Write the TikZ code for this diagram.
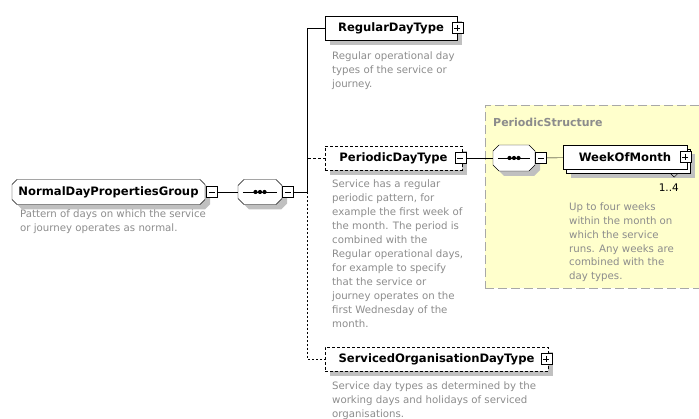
\documentclass[tikz,border=0pt]{standalone}
\usepackage{fontspec}
\setmainfont{DejaVu Sans}
\usetikzlibrary{positioning, shadows}
\definecolor{descgray}{HTML}{8C8C8C}
\definecolor{shadegray}{HTML}{C0C0C0}
\definecolor{framegray}{HTML}{A8A8A8}
\definecolor{paleyellow}{HTML}{FFFFCC}

\begin{document}
\begin{tikzpicture}[
    x=1pt, y=-1pt,
    box/.style=
        {draw, fill=white, rectangle, minimum height=24pt, inner sep=0pt,
         font=\bfseries\fontsize{11.6}{13}\selectfont},
    elem/.style=
        {box, drop shadow={shadow xshift=5pt, shadow yshift=-5pt,
         fill=shadegray, opacity=1}},
    optelem/.style={elem, dash pattern=on 3pt off 2pt},
    hollow/.style=
        {rectangle, inner sep=0pt, font=\bfseries\fontsize{11.6}{13}\selectfont},
    minusbox/.style=
        {draw, fill=white, minimum size=11pt, inner sep=0pt,
         path picture={
            \draw ([xshift=2.5pt]path picture bounding box.west)
                -- ([xshift=-2.5pt]path picture bounding box.east);}},
    plusbox/.style=
        {draw, fill=white, minimum size=11pt, inner sep=0pt,
         path picture={
            \draw ([xshift=2.5pt]path picture bounding box.west)
                -- ([xshift=-2.5pt]path picture bounding box.east);
            \draw ([yshift=-2.5pt]path picture bounding box.north)
                -- ([yshift=2.5pt]path picture bounding box.south);}},
    note/.style=
        {anchor=north west, align=left, inner sep=0pt, text=descgray,
         font=\fontsize{10.2}{13.7}\selectfont}]
    \useasboundingbox (0,0) rectangle (699,419);
    \node (perstruct) [draw=framegray, dash pattern=on 9pt off 4pt,
        fill=paleyellow, minimum width=230pt, minimum height=183pt,
        anchor=north west, inner sep=0pt] at (485,105) {};
    \node (perlabel) [anchor=west, inner sep=0pt, text=descgray,
        font=\bfseries\fontsize{11}{13}\selectfont] at (493,122) {PeriodicStructure};
    \foreach \cx/\cy/\w/\h/\c in {108.5/192/193/25/5, 260/192/44/25/6,
                                  514/158/42/26/6} {
        \fill [shadegray, shift={(\cx+5,\cy+5)}]
            (-\w/2+\c,-\h/2) -- (\w/2-\c,-\h/2) -- (\w/2,-\h/2+\c)
            -- (\w/2,\h/2-\c) -- (\w/2-\c,\h/2) -- (-\w/2+\c,\h/2)
            -- (-\w/2,\h/2-\c) -- (-\w/2,-\h/2+\c) -- cycle;
        \draw [fill=white, shift={(\cx,\cy)}]
            (-\w/2+\c,-\h/2) -- (\w/2-\c,-\h/2) -- (\w/2,-\h/2+\c)
            -- (\w/2,\h/2-\c) -- (\w/2-\c,\h/2) -- (-\w/2+\c,\h/2)
            -- (-\w/2,\h/2-\c) -- (-\w/2,-\h/2+\c) -- cycle;
    }
    \coordinate (junc) at (307,192);
    \node (grp) [hollow, minimum width=193pt, minimum height=25pt] at (108.5,192)
        {NormalDayPropertiesGroup};
    \node (grpminus) [minusbox, right=1pt of grp] {};
    \node (seqa) [hollow, minimum width=44pt, minimum height=25pt] at (260,192) {};
    \node (seqaminus) [minusbox, right=0pt of seqa] {};
    \node (reg) [elem, minimum width=132pt] at (391,28) {RegularDayType};
    \node (regplus) [plusbox] at (reg.east) {};
    \node (per) [optelem, minimum width=137pt] at (393.5,158) {PeriodicDayType};
    \node (perminus) [minusbox] at ([xshift=-2pt]per.east) {};
    \node (svc) [optelem, minimum width=223pt] at (436.5,359)
        {ServicedOrganisationDayType};
    \node (svcplus) [plusbox] at ([xshift=-2pt]svc.east) {};
    \node (seqb) [hollow, minimum width=42pt, minimum height=26pt] at (514,158) {};
    \node (seqbminus) [minusbox, right=0pt of seqb] {};
    \node (wombk) [elem, minimum width=124pt] at (628,161) {};
    \node (wom) [box, minimum width=124pt] at (625,157) {WeekOfMonth};
    \node (womplus) [plusbox] at ([xshift=-2pt]wom.east) {};
    \draw ([xshift=-20pt]wombk.south east) -- ++(4,4) -- ++(4,-4);
    \node (womocc) [anchor=east, inner sep=0pt,
        font=\fontsize{10.5}{12}\selectfont] at (679,188) {1..4};
    \foreach \s in {seqa,seqb} {
        \draw ([xshift=5pt]\s.west) -- ([xshift=-5pt]\s.east);
        \foreach \dx in {-4.5,0,4.5}
            \fill ([xshift=\dx pt]\s.center) circle (2.1pt);
    }
    \draw (grpminus) -- (seqa);
    \draw (seqaminus) -- (junc);
    \draw (junc) |- (reg);
    \draw [dash pattern=on 3pt off 2pt] (junc) |- (per);
    \draw [dash pattern=on 2pt off 2pt] (junc) |- (svc);
    \draw (perminus) -- (seqb);
    \draw (seqbminus) -- (wom);
    \node (grpdesc) [note] at (20,210)
        {Pattern of days on which the service\\or journey operates as normal.};
    \node (regdesc) [note] at (332,52)
        {Regular operational day\\types of the service or\\journey.};
    \node (perdesc) [note, font=\fontsize{10.2}{14}\selectfont] at (332,180)
        {Service has a regular\\periodic pattern, for\\example the first week of\\%
         the month. The period is\\combined with the\\Regular operational days,\\%
         for example to specify\\that the service or\\journey operates on the\\%
         first Wednesday of the\\month.};
    \node (womdesc) [note] at (569,203)
        {Up to four weeks\\within the month on\\which the service\\%
         runs. Any weeks are\\combined with the\\day types.};
    \node (svcdesc) [note] at (332,382)
        {Service day types as determined by the\\working days and holidays of serviced\\%
         organisations.};
\end{tikzpicture}
\end{document}
